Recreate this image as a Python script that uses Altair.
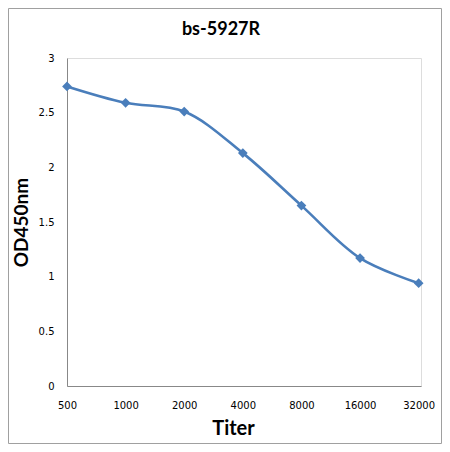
import json
import altair as alt
import pandas as pd

# ---- data ----
titers = ["500", "1000", "2000", "4000", "8000", "16000", "32000"]
od450 = [2.74, 2.59, 2.51, 2.13, 1.65, 1.17, 0.94]
y_ticks = [0, 0.5, 1, 1.5, 2, 2.5, 3]

df = pd.DataFrame({
    "idx": list(range(len(titers))),
    "titer": titers,
    "od": od450,
})

W, H = 354, 328
PAD = {"left": 59, "top": 50, "right": 21, "bottom": 58}
BLUE = "#4A7EBB"
AXIS_GREY = "#888888"

label_expr = json.dumps(titers) + "[datum.value]"

x_enc = alt.X(
    "idx:Q",
    scale=alt.Scale(domain=[0, 6.04], nice=False, zero=False),
    axis=alt.Axis(
        values=list(range(len(titers))),
        labelExpr=label_expr,
        ticks=False,
        grid=False,
        domainColor=AXIS_GREY,
        labelFont="DejaVu Sans",
        labelFontSize=10,
        labelColor="#000000",
        labelPadding=14,
        labelFlush=False,
        title="Titer",
        titleFont="Lato",
        titleFontSize=20,
        titleFontWeight="bold",
        titleColor="#000000",
        titleX=166,
        titleY=48,
        titleAnchor="middle",
        titleAlign="center",
        titleBaseline="alphabetic",
    ),
)

y_enc = alt.Y(
    "od:Q",
    scale=alt.Scale(domain=[0, 3], nice=False),
    axis=alt.Axis(
        values=y_ticks,
        format=".1~f",
        ticks=False,
        grid=False,
        domainColor=AXIS_GREY,
        labelFont="DejaVu Sans",
        labelFontSize=10,
        labelColor="#000000",
        labelPadding=13,
        title="OD450nm",
        titleFont="Lato",
        titleFontSize=19,
        titleFontWeight="bold",
        titleColor="#000000",
        titleAngle=-90,
        titleX=-40,
        titleY=164,
        titleAlign="center",
        titleBaseline="alphabetic",
    ),
)

line = alt.Chart(df).mark_line(
    color=BLUE, strokeWidth=2.6, interpolate="catmull-rom"
).encode(x=x_enc, y=y_enc, order="idx:Q")

points = alt.Chart(df).mark_point(
    shape="diamond", filled=True, size=95, color=BLUE, opacity=1
).encode(x="idx:Q", y="od:Q")

border = alt.Chart(alt.Data(values=[{"a": 1}])).mark_rect(
    filled=False, stroke="#a0a0a0", strokeWidth=1
).encode(
    x=alt.value(-PAD["left"] + 0.5),
    x2=alt.value(W + PAD["right"] - 0.5),
    y=alt.value(-PAD["top"] + 0.5),
    y2=alt.value(H + PAD["bottom"] - 0.5),
)

title_text = alt.Chart(alt.Data(values=[{"t": "bs-5927R"}])).mark_text(
    font="Lato", fontSize=18, fontWeight="bold", color="#000000",
    align="center", baseline="alphabetic",
).encode(
    text="t:N",
    x=alt.value(154),
    y=alt.value(-23),
)

chart = alt.layer(border, line, points, title_text).properties(
    width=W,
    height=H,
    padding=PAD,
    autosize=alt.AutoSizeParams(type="none"),
).configure_view(stroke=None).configure(background="white")

chart.save("out.html", embed_options={"renderer": "svg", "actions": False})
